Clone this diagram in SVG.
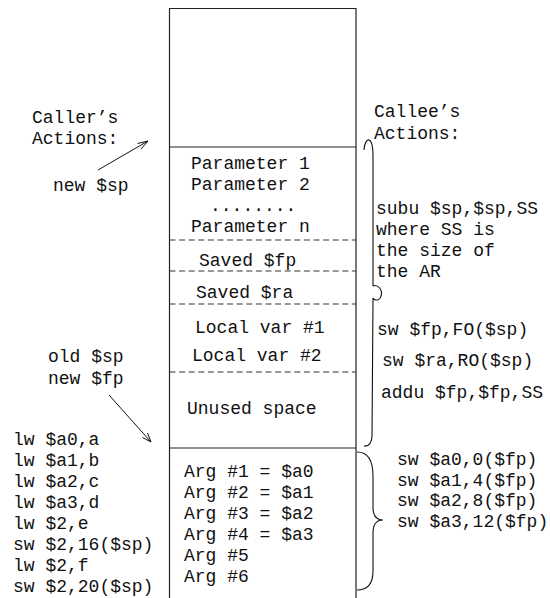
<svg xmlns="http://www.w3.org/2000/svg" width="550" height="598" viewBox="0 0 550 598">
<style>
text{font-family:"Liberation Mono","DejaVu Sans Mono",monospace;font-size:18px;fill:#111}
.ln{stroke:#222;stroke-width:1.2;fill:none}
.ds{stroke:#333;stroke-width:1.1;stroke-dasharray:6,3.6;fill:none}
.br{stroke:#111;stroke-width:1.1;fill:none}
.ar{stroke:#111;stroke-width:1;fill:none}
</style>
<rect width="550" height="598" fill="#fff"/>
<g id="stack">
<path class="ln" d="M169.5,600 V8.5 H356 V600"/>
<line class="ln" x1="169.5" y1="147" x2="356" y2="147"/>
<line class="ds" x1="169.5" y1="240" x2="356" y2="240"/>
<line class="ds" x1="169.5" y1="271" x2="356" y2="271"/>
<line class="ds" x1="169.5" y1="304" x2="356" y2="304"/>
<line class="ds" x1="169.5" y1="372" x2="356" y2="372"/>
<line class="ln" x1="169.5" y1="448" x2="356" y2="448"/>
</g>
<g id="params">
<text x="191" y="169">Parameter 1</text>
<text x="191" y="190">Parameter 2</text>
<text x="210" y="211">........</text>
<text x="191" y="232">Parameter n</text>
</g>
<g id="saved-fp"><text x="199" y="266">Saved $fp</text></g>
<g id="saved-ra"><text x="196" y="298">Saved $ra</text></g>
<g id="locals">
<text x="195" y="333">Local var #1</text>
<text x="192" y="361">Local var #2</text>
</g>
<g id="unused"><text x="187" y="414">Unused space</text></g>
<g id="args">
<text x="184" y="477">Arg #1 = $a0</text>
<text x="184" y="498">Arg #2 = $a1</text>
<text x="184" y="519">Arg #3 = $a2</text>
<text x="184" y="540">Arg #4 = $a3</text>
<text x="184" y="561">Arg #5</text>
<text x="184" y="582">Arg #6</text>
</g>
<g id="caller">
<text x="32" y="123">Caller’s</text>
<text x="32" y="144">Actions:</text>
<text x="53" y="191">new $sp</text>
<text x="48" y="362">old $sp</text>
<text x="48" y="384">new $fp</text>
<text x="13" y="445">lw $a0,a</text>
<text x="13" y="466">lw $a1,b</text>
<text x="13" y="487">lw $a2,c</text>
<text x="13" y="508">lw $a3,d</text>
<text x="13" y="529">lw $2,e</text>
<text x="13" y="550">sw $2,16($sp)</text>
<text x="13" y="571">lw $2,f</text>
<text x="13" y="592">sw $2,20($sp)</text>
</g>
<g id="callee">
<text x="374" y="117">Callee’s</text>
<text x="374" y="139">Actions:</text>
<text x="376" y="214">subu $sp,$sp,SS</text>
<text x="376" y="235">where SS is</text>
<text x="376" y="256">the size of</text>
<text x="376" y="277">the AR</text>
<text x="377" y="335">sw $fp,FO($sp)</text>
<text x="382" y="366">sw $ra,RO($sp)</text>
<text x="381" y="398">addu $fp,$fp,SS</text>
</g>
<g id="arg-stores">
<text x="397" y="465">sw $a0,0($fp)</text>
<text x="397" y="486">sw $a1,4($fp)</text>
<text x="397" y="506">sw $a2,8($fp)</text>
<text x="397" y="527">sw $a3,12($fp)</text>
</g>
<g id="connectors">
<path class="ar" d="M98,170 L148,141"/>
<path class="ar" d="M137.5,143.5 L148,141 L141,149"/>
<path class="ar" d="M109,395 L151,442"/>
<path class="ar" d="M142.5,437.5 L151,442 L147.5,433"/>
<path class="br" d="M364,150 C364,144 367,139 369,140 C372,141 373,146 373,156 L373,286 M373,300 L372,436 C372,442 369,447 364,446"/>
<path class="br" d="M373,286 C378,284 383,290 381,296 C380,301 374,301 373,298 L373,300"/>
<path class="br" d="M357,452 C368,452 373,460 373,476 L373,507 C373,515 376,520 383,520 C376,520 373,525 373,533 L373,571 C373,583 368,590 357,590"/>
</g>
</svg>
